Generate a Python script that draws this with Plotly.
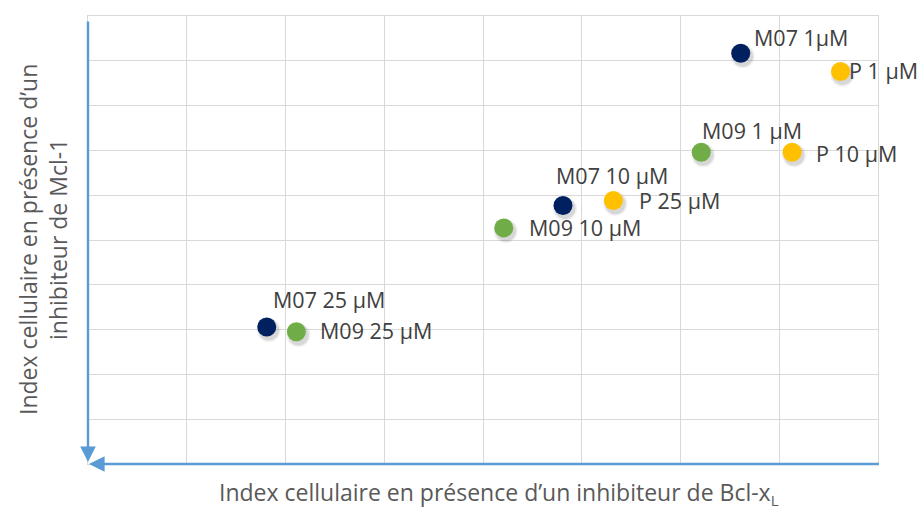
import plotly.graph_objects as go

# Cell index values (arbitrary units) under each inhibitor
labels = ["M07 1µM", "P 1 µM", "M09 1 µM", "P 10 µM", "M07 10 µM",
          "P 25 µM", "M09 10 µM", "M07 25 µM", "M09 25 µM"]
groups = ["M07", "P", "M09", "P", "M07", "P", "M09", "M07", "M09"]
bclxl_index = [6.61, 7.62, 6.21, 7.13, 4.81, 5.32, 4.21, 1.81, 2.11]
mcl1_index = [9.17, 8.76, 6.96, 6.96, 5.77, 5.88, 5.27, 3.06, 2.95]

colors = {"M07": "#002060", "M09": "#70AD47", "P": "#FFC000"}

# Label placement relative to each marker: (xshift px, yshift px)
label_place = [
    (11, 16), (7, 1), (-1, 22), (22, -1),
    (-9, 30), (24, 0), (23, 0), (4, 27),
    (22, 1),
]

FONT = "Open Sans"
W, H = 917, 509
ML, MR, MT, MB = 88, 39, 16, 45
PW, PH = W - ML - MR, H - MT - MB
X_MAX, Y_MAX = 8, 10

fig = go.Figure()

# soft drop shadow under the markers
for blur, alpha in [(24, 0.06), (21, 0.10)]:
    fig.add_trace(go.Scatter(
        x=[v + 0.02 for v in bclxl_index],
        y=[v - 0.07 for v in mcl1_index],
        mode="markers",
        marker=dict(size=blur, color=f"rgba(0,0,0,{alpha})"),
        hoverinfo="skip", showlegend=False,
    ))

fig.add_trace(go.Scatter(
    x=bclxl_index, y=mcl1_index, mode="markers",
    marker=dict(size=19, color=[colors[g] for g in groups]),
    text=labels, hoverinfo="text", showlegend=False,
))

for lab, xv, yv, (dx, dy) in zip(labels, bclxl_index, mcl1_index, label_place):
    fig.add_annotation(
        x=xv, y=yv, text=lab, showarrow=False, xanchor="left", yanchor="middle",
        xshift=dx, yshift=dy, font=dict(family=FONT, size=21.5, color="#404040"),
    )

# axis arrows: vertical one pointing down, horizontal one pointing left
axis_blue = "#5B9BD5"
fig.add_annotation(x=0, y=0, ax=0, ay=Y_MAX * 0.991, xref="x", yref="y",
                   axref="x", ayref="y", showarrow=True, arrowhead=2, arrowsize=1.3,
                   arrowwidth=2.4, arrowcolor=axis_blue, text="", standoff=2)
fig.add_annotation(x=0, y=0, ax=X_MAX * 1.003, ay=0, xref="x", yref="y",
                   axref="x", ayref="y", showarrow=True, arrowhead=2, arrowsize=1.3,
                   arrowwidth=2.4, arrowcolor=axis_blue, text="", standoff=1)

fig.add_annotation(
    x=(499 - ML) / PW, y=(H - MB - 493) / PH, xref="paper", yref="paper",
    xanchor="center", yanchor="middle", showarrow=False,
    text="Index cellulaire en présence d’un inhibiteur de Bcl-x"
         "<sub><span style='font-size:15px'>L</span></sub>",
    font=dict(family=FONT, size=23, color="#595959"),
)
fig.add_annotation(
    x=(43 - ML) / PW, y=0.5, xref="paper", yref="paper",
    xanchor="center", yanchor="middle", showarrow=False, textangle=-90,
    text="Index cellulaire en présence d’un<br>inhibiteur de Mcl-1",
    font=dict(family=FONT, size=23, color="#595959"),
)

grid = "#D9D9D9"
fig.update_xaxes(range=[0, X_MAX], dtick=1, showgrid=True, gridcolor=grid, gridwidth=1,
                 showticklabels=False, zeroline=False, showline=True, mirror=True,
                 linecolor=grid, linewidth=1, ticks="")
fig.update_yaxes(range=[0, Y_MAX], dtick=1, showgrid=True, gridcolor=grid, gridwidth=1,
                 showticklabels=False, zeroline=False, showline=True, mirror=True,
                 linecolor=grid, linewidth=1, ticks="")

fig.update_layout(
    width=W, height=H, margin=dict(l=ML, r=MR, t=MT, b=MB),
    paper_bgcolor="white", plot_bgcolor="white",
)

fig.write_html("out.html")
